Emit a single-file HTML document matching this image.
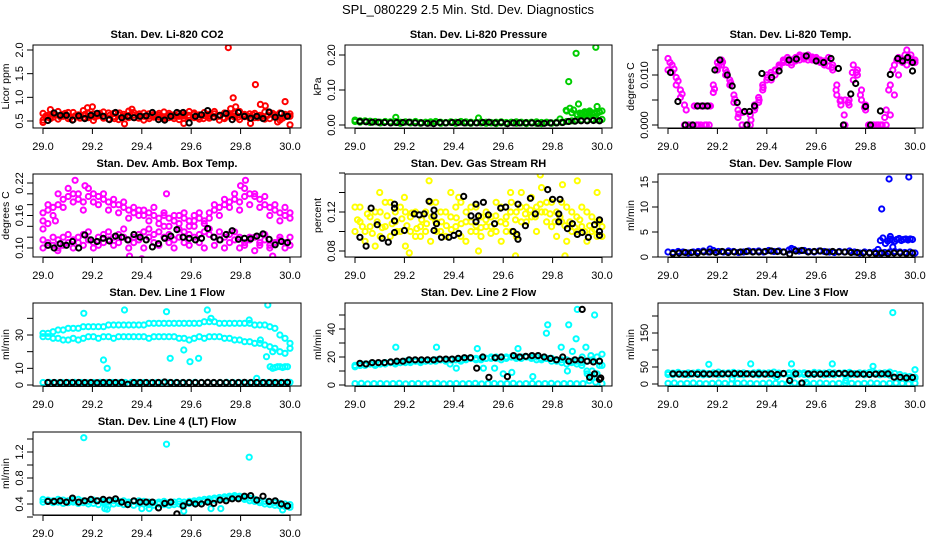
<!DOCTYPE html>
<html><head><meta charset="utf-8"><style>
html,body{margin:0;padding:0;background:#fff;}
svg{display:block;font-family:"Liberation Sans",sans-serif;}
</style></head><body>
<svg id="chart" width="936" height="540" viewBox="0 0 936 540">
<rect width="936" height="540" fill="#fff"/>
<text x="468" y="14" text-anchor="middle" font-size="13">SPL_080229  2.5 Min. Std. Dev. Diagnostics</text>
</svg>
<script>
// ---------- data ----------
const xTickValues = [29.0, 29.2, 29.4, 29.6, 29.8, 30.0];
const xTickLabels = ["29.0", "29.2", "29.4", "29.6", "29.8", "30.0"];

// Panel 1: CO2
const co2RedA = [0.66,0.62,0.58,0.70,0.64,0.55,0.68,0.60,0.72,0.57,0.65,0.61,0.69,0.54,0.66,0.63,0.59,0.71,0.62,0.56,0.67,0.60,0.64,0.58,0.69,0.62,0.55,0.66,0.61,0.70,0.57,0.63,0.68,0.60,0.65,0.52,0.67,0.62,0.58,0.70,0.64,0.56,0.66,0.61,0.69,0.55,0.63,0.67,0.59,0.65];
const co2RedB = [0.52,0.58,0.66,0.54,0.60,0.68,0.53,0.63,0.57,0.66,0.51,0.62,0.56,0.67,0.59,0.53,0.64,0.57,0.68,0.61,0.52,0.65,0.58,0.62,0.55,0.66,0.60,0.53,0.64,0.58,0.67,0.54,0.61,0.56,0.70,0.62,0.55,0.60,0.66,0.53,0.59,0.65,0.57,0.62,0.54,0.68,0.58,0.52,0.64,0.60];
const co2RedC = [0.60,0.55,0.63,0.59,0.66,0.57,0.61,0.56,0.64,0.60,0.58,0.66,0.60,0.62,0.55,0.67,0.60,0.62,0.57,0.65,0.60,0.55,0.61,0.66,0.59,0.57,0.63,0.60,0.56,0.62,0.64,0.58,0.55,0.64,0.59,0.60,0.57,0.65,0.61,0.58,0.62,0.60,0.63,0.57,0.60,0.62,0.66,0.58,0.56,0.62];
const co2OutX = [29.75,29.86,29.77,29.98,29.88,29.9,29.78,29.18,29.2,29.36,29.03,29.0,30.0,29.33,29.84,29.57,29.95,29.76];
const co2OutY = [2.05,1.27,0.99,0.91,0.85,0.82,0.8,0.78,0.8,0.75,0.74,0.47,0.42,0.44,0.45,0.45,0.48,0.76];
const co2Black = [0.51,0.67,0.62,0.62,0.52,0.61,0.55,0.62,0.66,0.6,0.53,0.68,0.57,0.6,0.57,0.6,0.61,0.68,0.53,0.52,0.6,0.68,0.68,0.46,0.6,0.63,0.72,0.58,0.62,0.66,0.53,0.68,0.6,0.56,0.6,0.55,0.69,0.58,0.66,0.6];

// Panel 2: Pressure
const presGreenA = [0.014,0.012,0.010,0.011,0.009,0.008,0.010,0.009,0.007,0.008,0.009,0.008,0.010,0.007,0.008,0.009,0.010,0.008,0.007,0.009,0.008,0.010,0.009,0.008,0.007,0.009,0.008,0.006,0.008,0.009,0.007,0.008,0.009,0.008,0.007,0.008,0.009,0.007,0.008,0.006,0.008,0.007,0.040,0.035,0.030,0.032,0.036,0.035,0.038,0.040];
const presGreenB = [0.010,0.008,0.012,0.007,0.010,0.006,0.009,0.007,0.010,0.005,0.008,0.006,0.009,0.005,0.007,0.006,0.008,0.005,0.006,0.007,0.005,0.008,0.006,0.005,0.007,0.006,0.005,0.007,0.004,0.006,0.005,0.007,0.005,0.006,0.004,0.006,0.005,0.004,0.007,0.005,0.006,0.008,0.010,0.012,0.014,0.015,0.014,0.016,0.015,0.016];
const presGreenC = [0.030,0.034,0.028,0.036,0.032,0.038,0.030,0.035,0.033,0.037];
const presOutX = [29.865,29.895,29.975,29.905,29.98,29.855,29.87,29.885,29.165,29.5,29.83,29.93,29.95];
const presOutY = [0.124,0.205,0.222,0.06,0.053,0.042,0.048,0.043,0.022,0.02,0.017,0.038,0.04];
const presBlack = [0.01,0.009,0.008,0.008,0.007,0.006,0.007,0.007,0.008,0.006,0.006,0.005,0.004,0.007,0.006,0.007,0.007,0.006,0.006,0.006,0.007,0.008,0.006,0.007,0.004,0.006,0.006,0.006,0.006,0.005,0.005,0.006,0.006,0.007,0.01,0.011,0.012,0.012,0.013,0.012];

// Panel 3: Li-820 Temp
const tempMagA = [0.0133,0.0120,0.0095,0.0070,0.0040,0,0,0,0.0038,0.0038,0.0038,0.0080,0.0125,0.0130,0.0110,0.0090,0.0060,0.0030,0,0,0.0020,0.0040,0.0055,0.0080,0.0100,0.0100,0.0110,0.0120,0.0130,0.0135,0.0130,0.0135,0.0140,0.0138,0.0140,0.0136,0.0135,0.0130,0.0128,0.0135,0.0120,0.0080,0.0040,0,0.0050,0.0120,0.0100,0.0070,0.0040,0,0,0,0,0.0030,0.0080,0.0120,0.0135,0.0130,0.0150,0.0140,0.0130];
const tempMagB = [0.0110,0.0105,0.0080,0.0055,0,0,0,0.0038,0,0,0,0.0065,0.0110,0.0120,0.0100,0.0080,0.0045,0.0015,0,0,0,0.0030,0.0045,0.0070,0.0090,0.0105,0.0100,0.0115,0.0125,0.0125,0.0120,0.0128,0.0130,0.0132,0.0130,0.0130,0.0128,0.0125,0.0120,0.0118,0.0110,0.0060,0.0050,0.0050,0.0040,0.0090,0.0110,0.0050,0.0030,0,0,0,0,0,0.0020,0.0060,0.0100,0.0125,0.0120,0.0130,0.0125];
const tempMagC = [0.0125,0.0112,0.0088,0.0062,0.0030,0,0.0038,0,0.0038,0,0.0038,0.0072,0.0118,0.0126,0.0105,0.0085,0.0052,0.0022,0.0025,0,0.0010,0.0035,0.0050,0.0075,0.0095,0.0090,0.0108,0.0118,0.0128,0.0130,0.0125,0.0132,0.0136,0.0135,0.0136,0.0133,0.0132,0.0128,0.0124,0.0128,0.0115,0.0070,0.0048,0.0020,0.0045,0.0105,0.0105,0.0060,0.0035,0,0,0,0,0.0015,0.0070,0.0110,0.0130,0.0128,0.0140,0.0135,0.0128];
const tempBlackX = [29.01,29.04,29.07,29.1,29.12,29.16,29.19,29.21,29.24,29.26,29.28,29.31,29.33,29.35,29.38,29.42,29.45,29.49,29.52,29.56,29.6,29.63,29.66,29.69,29.71,29.74,29.76,29.8,29.82,29.86,29.9,29.93,29.95,29.97,29.99,29.99,29.14,29.32];
const tempBlackY = [0.0105,0.0047,0,0,0.0038,0.0038,0.011,0.013,0.010,0.0078,0.0045,0.0027,0.0027,0.0038,0.0103,0.0095,0.0108,0.013,0.0132,0.0138,0.0128,0.0125,0.0133,0.0113,0,0.0062,0.0083,0.0037,0,0.0028,0.0101,0.0133,0.0128,0.0135,0.0108,0.0125,0.0038,0];

// Panel 4: Amb. Box Temp
const ambUpA = [0.165,0.17,0.175,0.18,0.19,0.195,0.2,0.19,0.185,0.195,0.2,0.195,0.19,0.185,0.18,0.18,0.175,0.17,0.165,0.17,0.16,0.165,0.16,0.155,0.16,0.155,0.15,0.16,0.155,0.15,0.16,0.155,0.15,0.165,0.17,0.175,0.18,0.185,0.19,0.185,0.195,0.2,0.195,0.19,0.18,0.175,0.17,0.165,0.16,0.165];
const ambUpB = [0.15,0.18,0.16,0.2,0.175,0.21,0.185,0.2,0.17,0.21,0.185,0.18,0.2,0.17,0.19,0.165,0.185,0.155,0.175,0.16,0.17,0.15,0.175,0.145,0.165,0.14,0.16,0.145,0.165,0.14,0.15,0.165,0.145,0.155,0.18,0.16,0.19,0.175,0.2,0.17,0.21,0.18,0.2,0.175,0.195,0.16,0.18,0.15,0.175,0.155];
const ambLowA = [0.115,0.11,0.105,0.115,0.12,0.11,0.115,0.12,0.125,0.115,0.11,0.12,0.125,0.115,0.12,0.125,0.12,0.115,0.12,0.125,0.13,0.12,0.125,0.13,0.12,0.125,0.115,0.12,0.13,0.125,0.12,0.125,0.13,0.125,0.12,0.115,0.12,0.125,0.115,0.12,0.11,0.115,0.12,0.11,0.115,0.105,0.11,0.115,0.11,0.12];
const ambLowB = [0.1,0.105,0.12,0.1,0.105,0.125,0.1,0.11,0.105,0.13,0.1,0.105,0.11,0.13,0.105,0.11,0.135,0.1,0.11,0.115,0.1,0.135,0.11,0.105,0.14,0.11,0.1,0.135,0.11,0.105,0.14,0.11,0.1,0.135,0.105,0.13,0.1,0.11,0.13,0.1,0.105,0.12,0.095,0.105,0.125,0.1,0.11,0.12,0.1,0.105];
const ambOutX = [29.0,29.13,29.17,29.02,29.5,29.35,29.4,29.8,29.93,29.06,29.82,29.05];
const ambOutY = [0.135,0.225,0.215,0.145,0.2,0.085,0.08,0.215,0.085,0.095,0.225,0.15];
const ambBlack = [0.105,0.1,0.108,0.105,0.112,0.1,0.124,0.115,0.112,0.118,0.113,0.122,0.12,0.115,0.125,0.12,0.115,0.102,0.108,0.118,0.122,0.134,0.12,0.118,0.115,0.118,0.136,0.12,0.115,0.125,0.132,0.116,0.118,0.117,0.122,0.126,0.116,0.106,0.112,0.11];

// Panel 5: Gas Stream RH
const rhYelA = [0.125,0.11,0.1,0.115,0.12,0.095,0.105,0.13,0.11,0.1,0.12,0.115,0.095,0.105,0.12,0.13,0.11,0.1,0.12,0.14,0.105,0.095,0.11,0.125,0.1,0.115,0.12,0.105,0.1,0.125,0.115,0.13,0.12,0.14,0.11,0.135,0.125,0.12,0.13,0.105,0.12,0.11,0.125,0.1,0.115,0.105,0.12,0.1,0.11,0.095];
const rhYelB = [0.1,0.125,0.09,0.105,0.085,0.12,0.13,0.095,0.12,0.125,0.085,0.1,0.12,0.095,0.1,0.09,0.13,0.12,0.095,0.115,0.125,0.13,0.09,0.1,0.125,0.095,0.105,0.115,0.13,0.09,0.1,0.1,0.095,0.11,0.125,0.115,0.1,0.145,0.11,0.13,0.095,0.13,0.09,0.12,0.1,0.125,0.09,0.115,0.095,0.105];
const rhYelC = [0.112,0.105,0.118,0.098,0.11,0.104,0.116,0.108,0.1,0.113,0.106,0.119,0.103,0.112,0.108,0.115,0.1,0.11,0.106,0.102,0.114,0.108,0.12,0.11,0.106,0.104,0.112,0.098,0.116,0.11,0.108,0.12,0.112,0.125,0.118,0.122,0.115,0.128,0.12,0.118,0.11,0.115,0.106,0.11,0.104,0.112,0.1,0.106,0.102,0.11];
const rhOutX = [29.3,29.73,29.75,29.85,29.98,29.9,29.84,29.42,29.65,29.5,29.2,29.22,29.63,29.1];
const rhOutY = [0.152,0.163,0.158,0.075,0.14,0.152,0.148,0.135,0.075,0.08,0.135,0.078,0.14,0.14];
const rhBlackX = [29.02,29.045,29.065,29.09,29.11,29.135,29.16,29.16,29.16,29.16,29.2,29.24,29.26,29.28,29.3,29.32,29.32,29.33,29.32,29.35,29.38,29.4,29.42,29.44,29.47,29.49,29.5,29.49,29.52,29.54,29.565,29.59,29.61,29.64,29.655,29.66,29.66,29.69,29.71,29.73,29.755,29.78,29.8,29.83,29.825,29.825,29.86,29.88,29.9,29.92,29.945,29.97,29.99,29.99,29.99];
const rhBlackY = [0.094,0.085,0.124,0.107,0.093,0.089,0.128,0.124,0.111,0.099,0.101,0.118,0.117,0.118,0.131,0.116,0.122,0.108,0.101,0.094,0.094,0.096,0.098,0.136,0.116,0.128,0.116,0.11,0.13,0.117,0.108,0.124,0.125,0.1,0.097,0.128,0.092,0.106,0.134,0.118,0.163,0.143,0.133,0.133,0.118,0.11,0.103,0.108,0.097,0.099,0.094,0.107,0.112,0.1,0.096];

// Panel 6: Sample Flow
const sfBlueA = [1,0.9,1.1,1,0.8,1,1.1,1.2,1,1.3,1.1,1,1.2,1.1,0.9,1,1.2,1.1,1.2,1,1.3,1.1,1.2,1,1.4,1.5,1.2,1.3,1.1,1,1.2,1.1,1,0.9,1.1,1,1.2,1,0.8,1,0.9,1,0.8,0.9,1,1.1,1,0.9,1,0.8];
const sfBlueHigh = [3.2,3.6,3.4,3.1,3.5,3.7,3.3,3.5,3.6,3.4,3.6,3.5];
const sfOutX = [29.895,29.975,29.865,29.86,29.87,29.88,29.9,29.91,29.85,29.17,29.5];
const sfOutY = [15.6,16,9.6,3.3,3.8,2.7,4.1,2.0,1.5,1.6,1.7];
const sfBlack = [0.7,0.8,0.9,0.9,0.8,1,1,0.9,1.1,0.9,1,1,1.1,1,1,1.1,1.2,1.1,1,0.6,1.2,1.3,1,1.1,1.2,1,1.1,1,1,0.9,0.9,0.8,0.8,0.7,0.8,0.7,0.8,0.8,0.7,0.8];

// Panel 7: Line 1 Flow
const l1Upper = [31,31,32,33,33,34,34,34,35,35,35,35,35,36,36,36,36,36,36,36,36,37,37,37,37,37,37,37,37,37,37,37,38,38,38,37,37,37,37,37,37,37,36,36,36,35,34,30,28,25];
const l1Lower = [29,29,28,28,27,27,28,27,28,29,29,28,29,29,28,29,29,29,29,29,29,28,29,29,29,29,29,28,28,27,28,29,28,29,29,29,28,28,27,27,26,26,25,25,24,23,22,20,19,22];
const l1Zero = [1.5,1.6,1.4,1.5,1.5,1.6,1.5,1.4,1.5,1.6,1.5,1.5,1.4,1.5,1.6,1.5,1.5,1.4,1.5,1.6,1.5,1.5,1.4,1.5,1.6,1.5,1.5,1.4,1.5,1.6,1.5,1.5,1.4,1.5,1.6,1.5,1.5,1.4,1.5,1.6];
const l1Seg = [11,10,10.5,11,11,10.5,11,11];
const l1OutX = [29.165,29.33,29.5,29.665,29.91,29.245,29.26,29.515,29.57,29.595,29.63,29.835,29.865,29.905,29.93,29.68,29.88];
const l1OutY = [43,45,44,45,48,15,10,16,21,14,16,39,4,17,20,40,27];
const l1Black = [1.5,1.5,1.5,1.5,1.5,1.5,1.5,1.5,1.4,1.5,1.5,1.5,1.6,0.5,1.5,1.5,1.5,1.5,1.5,1.8,1.5,1.5,1.5,1.5,1.5,1.5,1.6,1.5,1.5,1.5,1.5,1.5,1.6,1.5,1.5,1.5,1.5,1.5,1.5,1.6];

// Panel 8: Line 2 Flow
const l2Upper = [14,14,15,15,15,15,16,16,16,16,16,17,17,17,17,17,18,18,18,18,18,18,19,19,19,19,19,20,20,20,20,20,20,20,20,20,20,19,19,19,18,18,18,17,17,16,17,18,20,22];
const l2Lower = [13,14,14,15,14,15,15,16,15,16,17,16,17,16,17,17,17,18,17,18,18,17,18,19,18,18,19,19,19,18,19,20,19,19,20,19,18,18,19,17,17,16,15,16,15,14,10,5,8,14];
const l2Zero = [1,1.2,0.8,1,1.1,0.9,1,1.2,0.8,1,1.1,0.9,1,1.2,0.8,1,1.1,0.9,1,1.2,0.8,1,1.1,0.9,1,1.2,0.8,1,1.1,0.9,1,1.2,0.8,1,1.1,0.9,1,3,2,1];
const l2OutX = [29.165,29.33,29.495,29.66,29.835,29.78,29.775,29.865,29.9,29.895,29.97,29.935,29.955,29.92,29.41,29.52,29.565,29.6,29.635,29.72,29.385,29.86,29.88,29.99,29.94,29.96];
const l2OutY = [27,27,26,26,27,43,37,43,54,33,50,27,21,20,12,12,12,8,9,6,15,10,24,14,8,10];
const l2Black = [15.5,15,16,16,16,16.5,17,17,18,18,18,18,18,18.5,18.5,18.5,19,19.5,19.5,12,20,5.5,19.5,20,6,21,20,20.5,21,21,20,19,18,20,17,18,18,17,16.5,17];
const l2BlackExX = [29.92,29.95,29.99,29.97,29.995];
const l2BlackExY = [54,5.5,4,8,5];

// Panel 9: Line 3 Flow
const l3Upper = [33,32,34,31,33,32,34,33,31,33,35,32,33,34,32,33,31,33,34,32,33,35,32,31,33,34,32,33,31,34,33,32,34,33,32,33,34,31,33,32,34,33,32,33,35,31,28,24,22,20];
const l3Lower = [28,27,29,28,27,29,28,27,28,29,27,28,29,27,28,27,29,28,27,29,28,26,27,29,28,27,29,28,27,28,29,27,28,27,29,28,27,28,29,27,28,29,27,28,26,20,18,16,15,17];
const l3Zero = [2,3,1,2,3,2,1,2,3,2,1,2,3,2,1,2,3,2,1,2,3,2,1,2,3,2,1,2,3,2,1,2,3,2,1,2,3,2,1,2];
const l3OutX = [29.165,29.335,29.5,29.665,29.83,29.91,30.0,29.26,29.44,29.56,29.72];
const l3OutY = [58,59,59,59,52,210,42,15,20,5,10];
const l3Black = [30,29,29,30,29,30,29,30,30,30,31,30,30,29,30,29,30,28,31,10,30,3,30,29,29,30,30,31,31,30,29,29,28,29,30,30,20,20,18,19];

// Panel 10: Line 4 (LT) Flow
const l4CyanA = [0.47,0.46,0.45,0.47,0.46,0.45,0.46,0.47,0.45,0.44,0.46,0.45,0.44,0.43,0.45,0.44,0.45,0.43,0.44,0.45,0.44,0.43,0.42,0.43,0.44,0.42,0.43,0.44,0.43,0.44,0.45,0.46,0.47,0.48,0.49,0.5,0.51,0.52,0.53,0.52,0.5,0.49,0.47,0.45,0.44,0.43,0.42,0.41,0.40,0.39];
const l4CyanB = [0.43,0.44,0.42,0.43,0.41,0.42,0.43,0.41,0.42,0.40,0.41,0.39,0.42,0.38,0.40,0.41,0.39,0.40,0.38,0.41,0.40,0.39,0.38,0.40,0.39,0.38,0.39,0.40,0.39,0.41,0.42,0.43,0.44,0.45,0.46,0.47,0.48,0.49,0.50,0.49,0.47,0.45,0.44,0.42,0.40,0.39,0.38,0.37,0.36,0.35];
const l4OutX = [29.165,29.5,29.835,29.25,29.4,29.72,29.97,29.57,29.26,29.43,29.68];
const l4OutY = [1.42,1.32,1.12,0.33,0.33,0.33,0.31,0.29,0.32,0.33,0.33];
const l4Black = [0.44,0.44,0.45,0.43,0.49,0.43,0.45,0.47,0.45,0.47,0.46,0.48,0.43,0.39,0.45,0.43,0.43,0.43,0.34,0.41,0.43,0.25,0.37,0.42,0.4,0.4,0.43,0.41,0.46,0.45,0.48,0.48,0.52,0.53,0.46,0.52,0.44,0.45,0.4,0.37];

// ---------- drawing ----------
const NS = "http://www.w3.org/2000/svg";
const svg = document.getElementById("chart");
function mk(tag, attrs, parent) {
  const e = document.createElementNS(NS, tag);
  for (const k in attrs) e.setAttribute(k, attrs[k]);
  (parent || svg).appendChild(e);
  return e;
}
function spread(a, b, n) { const r = []; for (let i = 0; i < n; i++) r.push(n === 1 ? a : a + (b - a) * i / (n - 1)); return r; }

const RED = "#ff0000", GREEN = "#00cd00", MAG = "#ff00ff", YEL = "#ffff00", BLUE = "#0000ff", CYAN = "#00ffff", BLK = "#000000";

function U(arr, color, a, b) { return { x: spread(a === undefined ? 29 : a, b === undefined ? 30 : b, arr.length), y: arr, c: color }; }
function P(xs, ys, color) { return { x: xs, y: ys, c: color }; }

const panels = [
  { col:0,row:0,name:"co2",title:"Stan. Dev. Li-820 CO2",ylab:"Licor ppm",yr:[0.5,121,2.0,50],
    ticks:[0.5,1.0,1.5,2.0],labels:["0.5","1.0","1.5","2.0"],
    series:[U(co2RedA,RED),U(co2RedB,RED),U(co2RedC,RED,29.01,29.99),P(co2OutX,co2OutY,RED),U(co2Black,BLK,29.02,29.99)]},
  { col:1,row:0,name:"pressure",title:"Stan. Dev. Li-820 Pressure",ylab:"kPa",yr:[0,125,0.2,55],
    ticks:[0,0.1,0.2],labels:["0.00","0.10","0.20"],
    series:[U(presGreenA,GREEN),U(presGreenB,GREEN),U(presGreenC,GREEN,29.9,29.99),P(presOutX,presOutY,GREEN),U(presBlack,BLK,29.02,29.99)]},
  { col:2,row:0,name:"temp",title:"Stan. Dev. Li-820 Temp.",ylab:"degrees C",yr:[0,125,0.010,75],
    ticks:[0,0.005,0.010,0.015],labels:["0.000","","0.010",""],
    series:[U(tempMagA,MAG),U(tempMagB,MAG),U(tempMagC,MAG,29.008,29.992),P(tempBlackX,tempBlackY,BLK)]},
  { col:0,row:1,name:"ambbox",title:"Stan. Dev. Amb. Box Temp.",ylab:"degrees C",yr:[0.10,248,0.22,183],
    ticks:[0.10,0.12,0.14,0.16,0.18,0.20,0.22],labels:["0.10","","","0.16","","","0.22"],
    series:[U(ambUpA,MAG),U(ambUpB,MAG),U(ambLowA,MAG),U(ambLowB,MAG),P(ambOutX,ambOutY,MAG),U(ambBlack,BLK,29.02,29.99)]},
  { col:1,row:1,name:"rh",title:"Stan. Dev. Gas Stream RH",ylab:"percent",yr:[0.08,251,0.12,212],
    ticks:[0.08,0.10,0.12,0.14,0.16],labels:["0.08","","0.12","",""],
    series:[U(rhYelA,YEL),U(rhYelB,YEL),U(rhYelC,YEL,29.01,29.99),P(rhOutX,rhOutY,YEL),P(rhBlackX,rhBlackY,BLK)]},
  { col:2,row:1,name:"sampleflow",title:"Stan. Dev. Sample Flow",ylab:"ml/min",yr:[0,257,15,182],
    ticks:[0,5,10,15],labels:["0","5","10","15"],
    series:[U(sfBlueA,BLUE),U(sfBlueHigh,BLUE,29.89,29.99),P(sfOutX,sfOutY,BLUE),U(sfBlack,BLK,29.02,29.99)]},
  { col:0,row:2,name:"line1",title:"Stan. Dev. Line 1 Flow",ylab:"ml/min",yr:[0,385,30,335],
    ticks:[0,10,20,30,40],labels:["0","10","","30",""],
    series:[U(l1Upper,CYAN),U(l1Lower,CYAN),U(l1Zero,CYAN),U(l1Seg,CYAN,29.92,29.99),P(l1OutX,l1OutY,CYAN),U(l1Black,BLK,29.02,29.99)]},
  { col:1,row:2,name:"line2",title:"Stan. Dev. Line 2 Flow",ylab:"ml/min",yr:[0,385,40,329],
    ticks:[0,10,20,30,40,50],labels:["0","","20","","40",""],
    series:[U(l2Upper,CYAN),U(l2Lower,CYAN),U(l2Zero,CYAN),P(l2OutX,l2OutY,CYAN),U(l2Black,BLK,29.02,29.99),P(l2BlackExX,l2BlackExY,BLK)]},
  { col:2,row:2,name:"line3",title:"Stan. Dev. Line 3 Flow",ylab:"ml/min",yr:[0,384,150,333],
    ticks:[0,50,100,150,200],labels:["0","50","","150",""],
    series:[U(l3Upper,CYAN),U(l3Lower,CYAN),U(l3Zero,CYAN),P(l3OutX,l3OutY,CYAN),U(l3Black,BLK,29.02,29.99)]},
  { col:0,row:3,name:"line4",title:"Stan. Dev. Line 4 (LT) Flow",ylab:"ml/min",yr:[0.4,504,1.2,452],
    ticks:[0.2,0.4,0.6,0.8,1.0,1.2,1.4],labels:["","0.4","","0.8","","1.2",""],
    series:[U(l4CyanA,CYAN),U(l4CyanB,CYAN),P(l4OutX,l4OutY,CYAN),U(l4Black,BLK,29.02,29.99)]}
];

const colLeft = [33, 345, 658], colRight = [301, 612, 923];
const rowTop = [45, 174, 303, 432], rowBot = [128, 257, 386, 515];

panels.forEach((p, pi) => {
  const L = colLeft[p.col], R = colRight[p.col], T = rowTop[p.row], B = rowBot[p.row];
  const xs = v => L + 10 + (v - 29) * 247;
  const ys = v => p.yr[1] + (v - p.yr[0]) * (p.yr[3] - p.yr[1]) / (p.yr[2] - p.yr[0]);
  const g = mk("g", {});
  
  

  const t = mk("text", { x: (L + R) / 2, y: T - 7, "text-anchor": "middle", "font-size": "11", "font-weight": "bold" }, g);
  t.textContent = p.title;
  
  

  const cp = mk("clipPath", { id: "clip" + pi }, g);
  mk("rect", { x: L, y: T, width: R - L, height: B - T }, cp);
  const pts = mk("g", { "clip-path": "url(#clip" + pi + ")" }, g);
  
  
  p.series.forEach(s => {
    for (let i = 0; i < s.y.length; i++) {
      const c = mk("circle", { cx: xs(s.x[i]).toFixed(1), cy: ys(s.y[i]).toFixed(1), r: 2.6, fill: "none", stroke: s.c, "stroke-width": 2 }, pts);
      
      
    }
  });

  const box = mk("rect", { x: L, y: T, width: R - L, height: B - T, fill: "none", stroke: "#000", "stroke-width": 1 }, g);
  
  

  const xa = mk("g", {}, g);
  
  
  mk("line", { x1: xs(29), x2: xs(30), y1: B + 0.5, y2: B + 0.5, stroke: "#000" }, xa);
  xTickValues.forEach((v, i) => {
    mk("line", { x1: xs(v), x2: xs(v), y1: B, y2: B + 6, stroke: "#000" }, xa);
    const lt = mk("text", { x: xs(v), y: B + 22, "text-anchor": "middle", "font-size": "11" }, xa);
    lt.textContent = xTickLabels[i];
    
    
  });

  const ya = mk("g", {}, g);
  
  
  p.ticks.forEach((v, i) => {
    const y = ys(v);
    mk("line", { x1: L - 6, x2: L, y1: y, y2: y, stroke: "#000" }, ya);
    if (p.labels[i]) {
      const lt = mk("text", { x: 0, y: 0, "text-anchor": "middle", "font-size": "11", transform: "translate(" + (L - 10) + "," + y + ") rotate(-90)" }, ya);
      lt.textContent = p.labels[i];
      
      
    }
  });
  const yl = mk("text", { x: 0, y: 0, "text-anchor": "middle", "font-size": "10.5", transform: "translate(" + (L - 24) + "," + ((T + B) / 2) + ") rotate(-90)" }, g);
  yl.textContent = p.ylab;
  
  
});
</script>
</body></html>
